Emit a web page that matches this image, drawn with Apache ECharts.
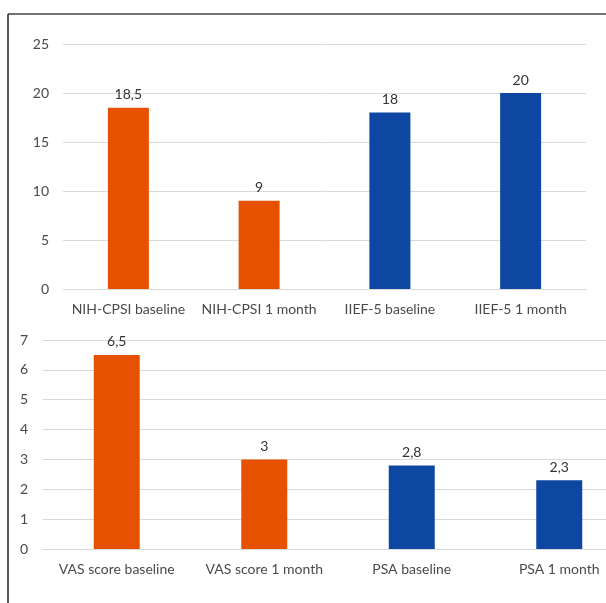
<!DOCTYPE html>
<html>
<head>
<meta charset="utf-8">
<script src="https://cdn.jsdelivr.net/npm/echarts@6/dist/echarts.min.js"></script>
<style>
html,body{margin:0;padding:0;background:#fff;}
#chart{width:606px;height:603px;}
</style>
</head>
<body>
<div id="chart"></div>
<script>
const topCategories = ["NIH-CPSI baseline", "NIH-CPSI 1 month", "IIEF-5 baseline", "IIEF-5 1 month"];
const topValues = [18.5, 9, 18, 20];
const topColors = ["#E65100", "#E65100", "#0D47A1", "#0D47A1"];
const topTicks = [0, 5, 10, 15, 20, 25];

const bottomCategories = ["VAS score baseline", "VAS score 1 month", "PSA baseline", "PSA 1 month"];
const bottomValues = [6.5, 3, 2.8, 2.3];
const bottomColors = ["#E65100", "#E65100", "#0D47A1", "#0D47A1"];
const bottomTicks = [0, 1, 2, 3, 4, 5, 6, 7];

const FONT = "Lato";
const chart = echarts.init(document.getElementById('chart'), null, {renderer: 'canvas'});

function fmt(v){ return String(v).replace('.', ','); }

function barData(values, colors){
  return values.map((v, i) => ({value: v, itemStyle: {color: colors[i]}}));
}

const option = {
  backgroundColor: '#fff',
  animation: false,
  textStyle: {fontFamily: FONT},
  grid: [
    {left: 63, right: 20, top: 44, height: 245, outerBoundsMode: 'none', containLabel: false},
    {left: 43, right: -27, top: 340, height: 209, outerBoundsMode: 'none', containLabel: false}
  ],
  xAxis: [
    {
      gridIndex: 0, type: 'category', data: topCategories,
      axisLine: {show: true, lineStyle: {color: '#d9d9d9', width: 1}},
      axisTick: {show: false},
      axisLabel: {color: '#4a4a4a', fontSize: 14, fontFamily: FONT, margin: 13, interval: 0}
    },
    {
      gridIndex: 1, type: 'category', data: bottomCategories,
      axisLine: {show: true, lineStyle: {color: '#d9d9d9', width: 1}},
      axisTick: {show: false},
      axisLabel: {color: '#4a4a4a', fontSize: 14, fontFamily: FONT, margin: 13, interval: 0}
    }
  ],
  yAxis: [
    {
      gridIndex: 0, type: 'value',
      min: topTicks[0], max: topTicks[topTicks.length - 1], interval: topTicks[1] - topTicks[0],
      axisLine: {show: false}, axisTick: {show: false},
      axisLabel: {color: '#4a4a4a', fontSize: 14, fontFamily: FONT, margin: 14},
      splitLine: {lineStyle: {color: '#d9d9d9', width: 1}}
    },
    {
      gridIndex: 1, type: 'value',
      min: bottomTicks[0], max: bottomTicks[bottomTicks.length - 1], interval: bottomTicks[1] - bottomTicks[0],
      axisLine: {show: false}, axisTick: {show: false},
      axisLabel: {color: '#4a4a4a', fontSize: 14, fontFamily: FONT, margin: 15},
      splitLine: {lineStyle: {color: '#d9d9d9', width: 1}}
    }
  ],
  series: [
    {
      type: 'bar', xAxisIndex: 0, yAxisIndex: 0,
      data: barData(topValues, topColors),
      barWidth: 41,
      label: {show: true, position: 'top', distance: 6, color: '#333', fontSize: 14, fontFamily: FONT,
        formatter: p => fmt(p.value)}
    },
    {
      type: 'bar', xAxisIndex: 1, yAxisIndex: 1,
      data: barData(bottomValues, bottomColors),
      barWidth: 46,
      label: {show: true, position: 'top', distance: 6, color: '#333', fontSize: 14, fontFamily: FONT,
        formatter: p => fmt(p.value)}
    }
  ],
  graphic: [
    {type: 'line', shape: {x1: 8, y1: 14, x2: 606, y2: 14}, style: {stroke: '#444', lineWidth: 1.5}, z: 100},
    {type: 'line', shape: {x1: 8, y1: 14, x2: 8, y2: 603}, style: {stroke: '#222', lineWidth: 1.5}, z: 100}
  ]
};
chart.setOption(option);
</script>
</body>
</html>
